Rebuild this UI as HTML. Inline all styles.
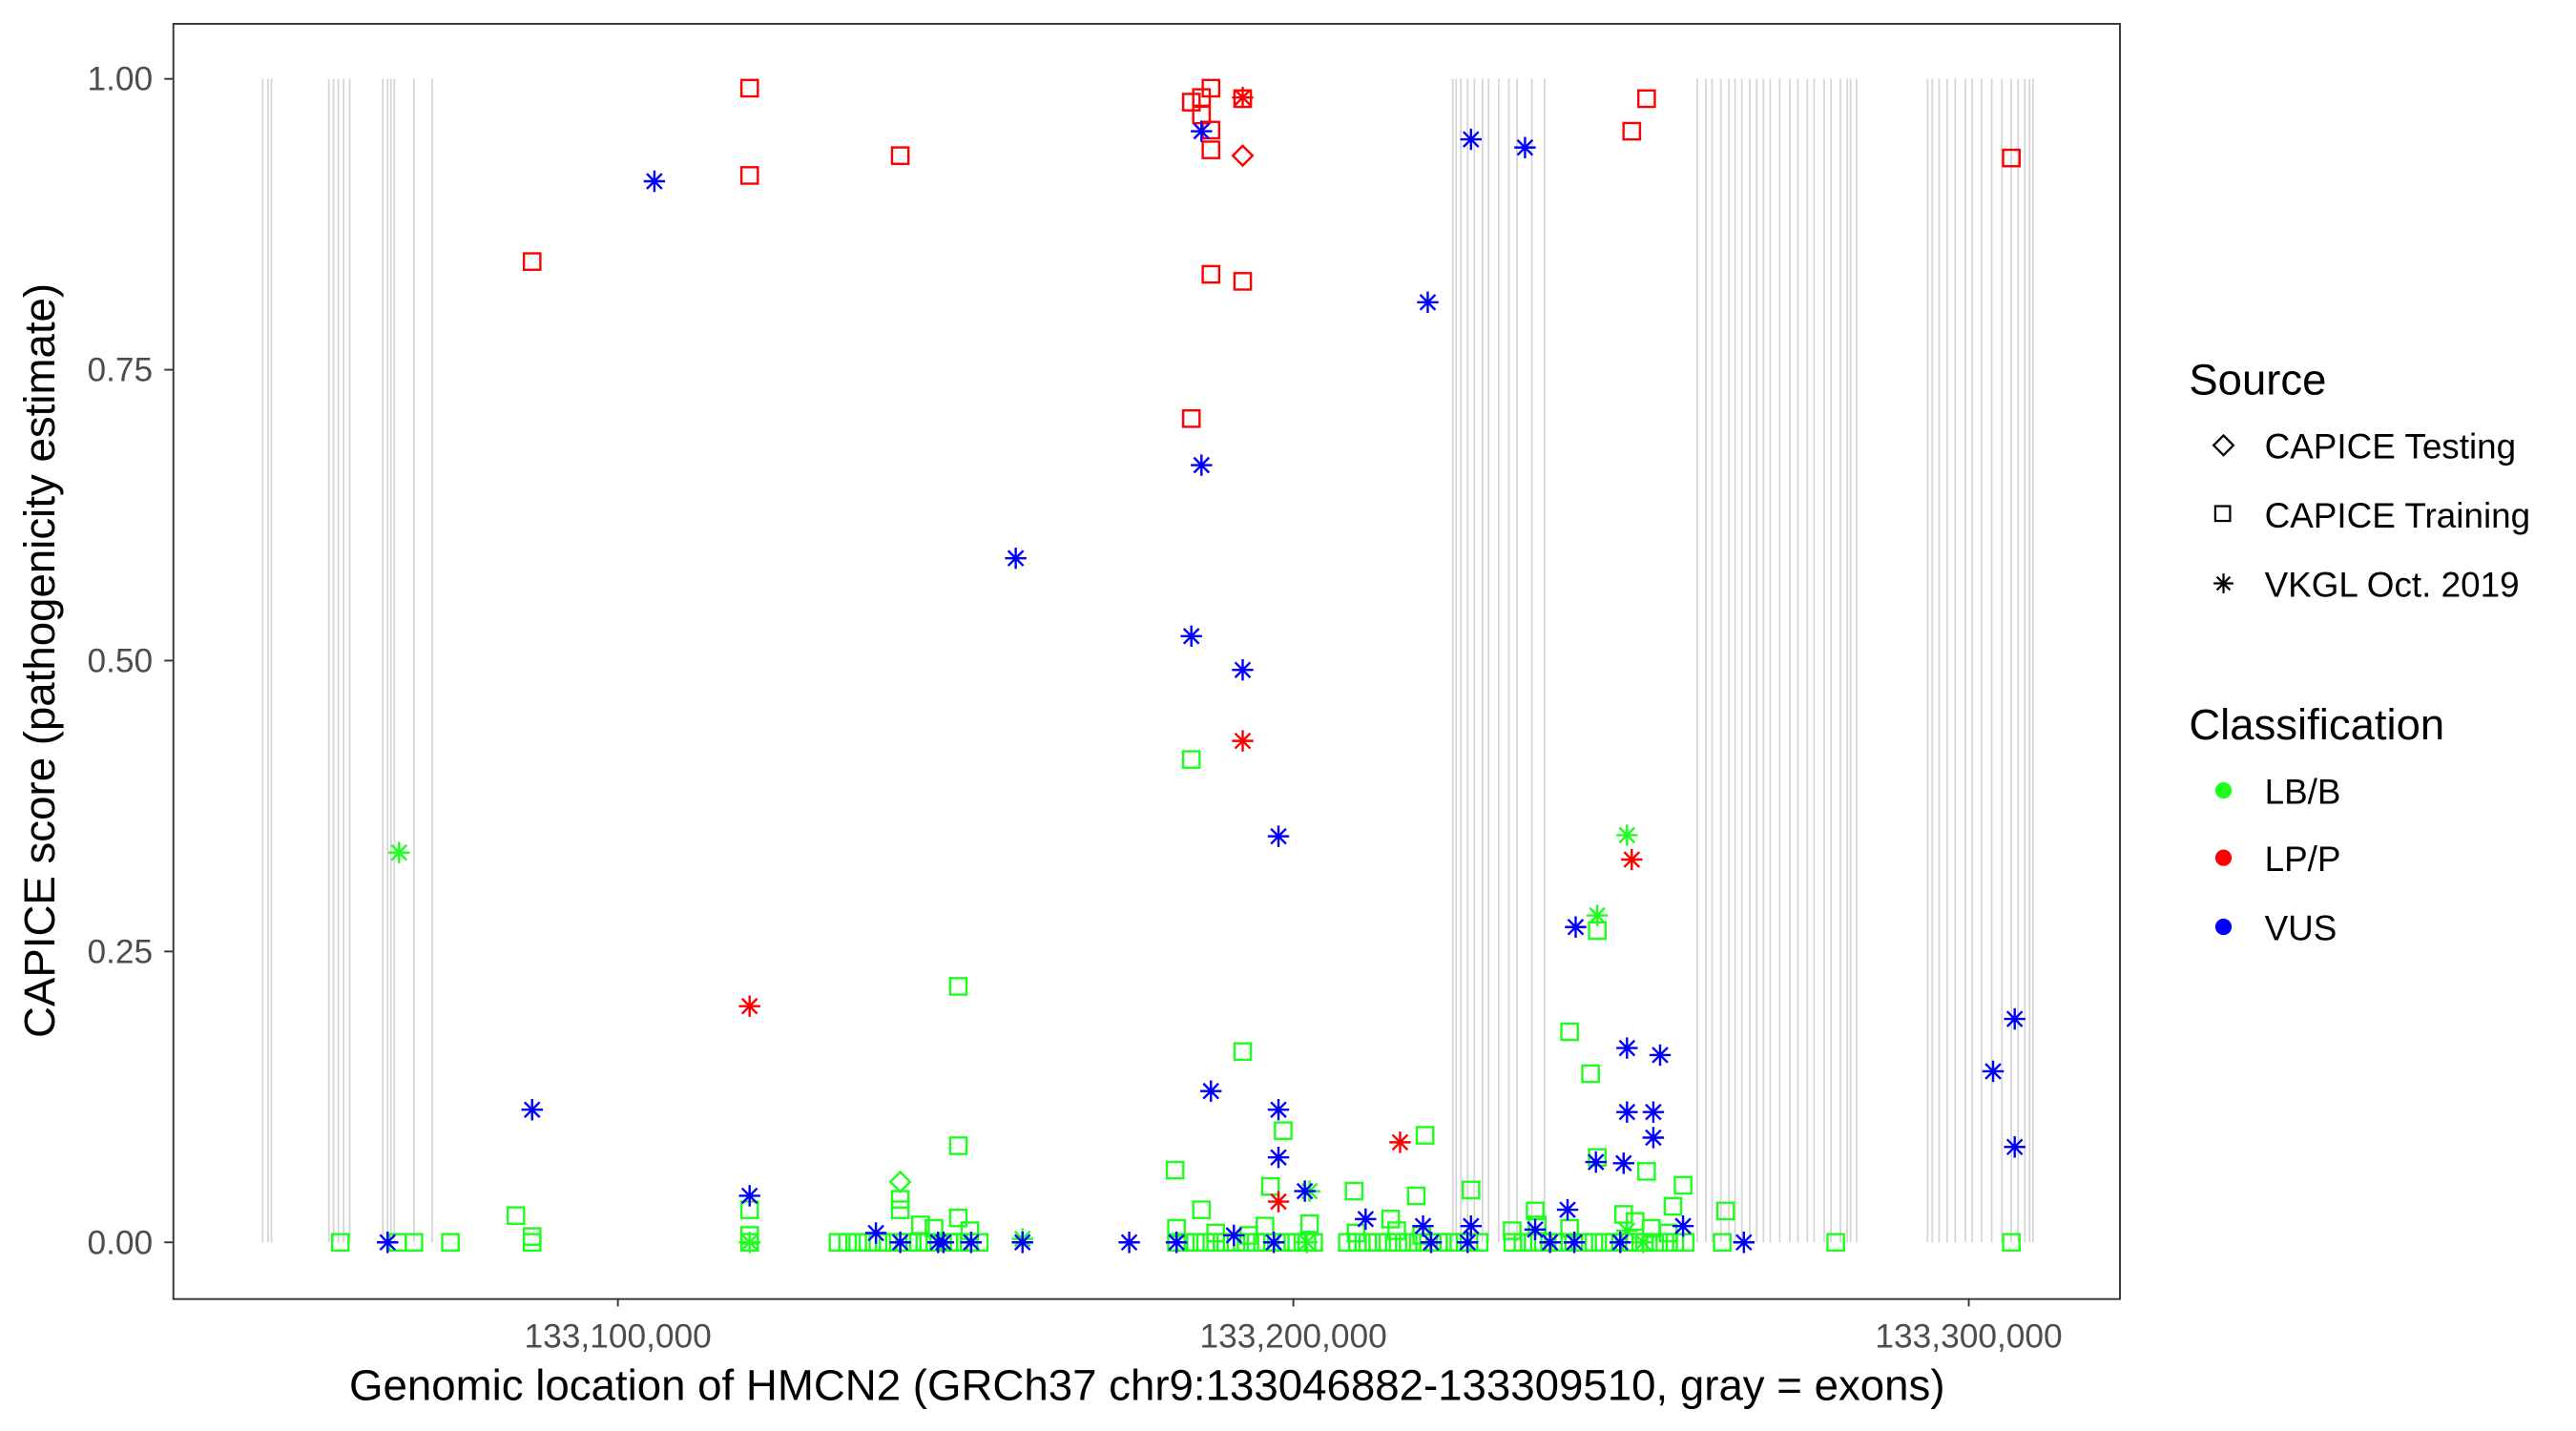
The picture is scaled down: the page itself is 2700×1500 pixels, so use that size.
<!DOCTYPE html>
<html><head><meta charset="utf-8"><style>
html,body{margin:0;padding:0;background:#fff;}
svg{display:block;font-family:"Liberation Sans",Arial,sans-serif;}
</style></head><body>
<svg id="chart" width="2700" height="1500" viewBox="0 0 1567.5 870.8" preserveAspectRatio="none" xmlns="http://www.w3.org/2000/svg">
<rect x="0" y="0" width="1567.5" height="870.8" fill="#fff"/>
<g id="exons"></g>
<g id="points"></g>
<rect x="105.5" y="14.5" width="1184.5" height="776" fill="none" stroke="#333" stroke-width="1.1"/>
<g id="yaxis"></g>
<g id="xaxis"></g>
<text transform="translate(33,402) rotate(-90)" text-anchor="middle" font-size="26.5" fill="#000">CAPICE score (pathogenicity estimate)</text>
<text x="698" y="852" text-anchor="middle" font-size="26.5" fill="#000">Genomic location of HMCN2 (GRCh37 chr9:133046882-133309510, gray = exons)</text>
<g>
<text x="1332" y="240" font-size="26.4">Source</text>
<path d="M1353 265 L1359 271 L1353 277 L1347 271 Z" fill="none" stroke="#000" stroke-width="1.3"/>
<text x="1378" y="279" font-size="21.4">CAPICE Testing</text>
<rect x="1348" y="308" width="9" height="9" fill="none" stroke="#000" stroke-width="1.3"/>
<text x="1378" y="321" font-size="21.4">CAPICE Training</text>
<path d="M1353 349 V361 M1347 355 H1359 M1349 351 L1357 359 M1357 351 L1349 359" stroke="#000" stroke-width="1.3"/>
<text x="1378" y="363" font-size="21.4">VKGL Oct. 2019</text>
</g>
<g>
<text x="1332" y="450" font-size="26.4">Classification</text>
<circle cx="1353" cy="481" r="5" fill="#1cff1c"/>
<text x="1378" y="489" font-size="21.4">LB/B</text>
<circle cx="1353" cy="522" r="5" fill="#ff0000"/>
<text x="1378" y="530" font-size="21.4">LP/P</text>
<circle cx="1353" cy="564" r="5" fill="#0000ff"/>
<text x="1378" y="572" font-size="21.4">VUS</text>
</g>
</svg>
<script>
// positions in kb (GRCh37 chr9), scores 0-1
const exonKb=[133047.4,133048.2,133048.7,133057.2,133057.9,133058.6,133059.4,133060.3,133065.2,133065.9,133066.4,133066.9,133069.8,133072.5,
133223.6,133224.1,133224.8,133225.8,133226.8,133228.0,133228.9,133230.4,133231.9,133233.1,133235.3,133237.2,
133259.8,133261.1,133262.0,133263.3,133264.5,133265.4,133266.4,133267.6,133268.6,133269.6,133270.6,133272.0,133273.5,133274.7,133276.1,133277.1,133278.6,133279.6,133281.0,133282.0,133282.5,133283.4,
133293.9,133294.6,133295.6,133296.8,133298.0,133299.5,133300.5,133301.9,133303.4,133304.9,133306.3,133307.3,133308.3,133309.0,133309.5];
const yTicks=[0,0.25,0.5,0.75,1];
const yTickLabels=["0.00","0.25","0.50","0.75","1.00"];
const xTicksKb=[133100,133200,133300];
const xTickLabels=["133,100,000","133,200,000","133,300,000"];

const greenSquarePos=[133184.9,133150.4,133192.5,133240.9,133244.0,133150.4,133198.5,133219.5,133182.5,133245.0,133245.0,133252.3,133257.7,133196.6,133209.0,133218.2,133226.3,133141.8,133141.8,133084.9,133150.4,133119.5,133186.4,133264.0,133235.8,133256.2,133248.9,133214.4,133202.4,133144.8,133146.8,133152.1,133182.7,133188.5,133195.8,133193.4,133209.3,133215.3,133219.0,133232.4,133236.1,133240.9,133250.6,133253.0,133255.5,133087.3,133119.5,
133058.9,133069.8,133075.2,133087.3,133119.5,133132.6,133134,133135.5,133137,133138.5,133140,133141.5,133143,133144.5,133146,133147.5,133149,133150.5,133152,133153.5,133067.4,
133182.7,133184,133185.5,133187,133188.5,133190,133191.5,133193,133194.5,133196,133197.5,133199,133200.5,133202,133203,
133208,133209.5,133211,133212.5,133214,133215.5,133217,133218.5,133220,133221.5,133223,133224.5,133226,133227.5,
133232.5,133234,133235.5,133237,133238.5,133240,133241.5,133243,133244.5,133246,133247.5,133249,133250.5,133252,133253.5,133255,133256.5,133258,133263.5,133280.3,133306.3];
const greenSquareScore=[0.415,0.220,0.164,0.181,0.145,0.083,0.096,0.092,0.062,0.268,0.073,0.061,0.049,0.048,0.044,0.040,0.045,0.037,0.028,0.023,0.021,0.028,0.028,0.027,0.027,0.031,0.024,0.020,0.016,0.015,0.012,0.010,0.012,0.008,0.014,0.006,0.008,0.010,0.006,0.010,0.015,0.012,0.018,0.012,0.008,0.005,0.006,
0,0,0,0,0,0,0,0,0,0,0,0,0,0,0,0,0,0,0,0,0,
0,0,0,0,0,0,0,0,0,0,0,0,0,0,0,
0,0,0,0,0,0,0,0,0,0,0,0,0,0,
0,0,0,0,0,0,0,0,0,0,0,0,0,0,0,0,0,0,0,0,0];
const greenStarPos=[133067.6,133249.4,133245.0,133202.4,133119.5,133159.9,133249.4,133251.8,133202.0];
const greenStarScore=[0.335,0.350,0.281,0.044,0,0.003,0.010,0,0];
const greenDiamondPos=[133141.8];
const greenDiamondScore=[0.052];

const redSquarePos=[133119.5,133119.5,133087.3,133141.8,133184.9,133186.4,133187.8,133187.8,133187.8,133186.4,133192.5,133187.8,133192.5,133184.9,133250.1,133252.3,133306.3];
const redSquareScore=[0.992,0.917,0.843,0.934,0.980,0.984,0.992,0.956,0.939,0.969,0.983,0.832,0.826,0.708,0.955,0.983,0.932];
const redDiamondPos=[133192.5];
const redDiamondScore=[0.934];
const redStarPos=[133192.5,133192.5,133119.5,133197.8,133215.8,133250.1];
const redStarScore=[0.984,0.431,0.203,0.035,0.086,0.329];

const blueStarPos=[133105.4,133186.4,133226.3,133234.3,133219.9,133186.4,133158.9,133184.9,133192.5,133197.8,133241.8,133306.8,133303.6,133306.8,133087.3,133187.8,133197.8,133197.8,133249.4,133254.3,133249.4,133253.3,133253.3,133244.8,133248.9,133201.7,133119.5,133210.7,133240.6,133257.7,133138.2,133191.2,133219.2,133226.3,133235.8,
133065.9,133141.8,133147.4,133148.2,133152.3,133159.9,133175.7,133182.7,133197.1,133220.4,133225.8,133238.0,133241.6,133248.4,133266.7];
const blueStarScore=[0.912,0.955,0.948,0.941,0.808,0.668,0.588,0.521,0.492,0.349,0.271,0.192,0.147,0.082,0.114,0.130,0.114,0.073,0.167,0.161,0.112,0.112,0.090,0.069,0.068,0.044,0.040,0.020,0.028,0.014,0.008,0.006,0.014,0.014,0.011,
0,0,0,0,0,0,0,0,0,0,0,0,0,0,0];

const NS="http://www.w3.org/2000/svg";
function xScale(kb){return 376+(kb-133100)*4.11;}
function yScale(v){return 756-708*v;}
const gEx=document.getElementById('exons');
exonKb.forEach(function(k){
  const l=document.createElementNS(NS,'line');
  
  
  const x=xScale(k);
  l.setAttribute('x1',x);l.setAttribute('x2',x);
  l.setAttribute('y1',yScale(1));l.setAttribute('y2',yScale(0));
  l.setAttribute('stroke','#d4d4d4');l.setAttribute('stroke-width','1');
  gEx.appendChild(l);
});
const gy=document.getElementById('yaxis');
yTicks.forEach(function(v,i){
  const y=yScale(v);
  const t=document.createElementNS(NS,'line');
  
  
  t.setAttribute('x1',100);t.setAttribute('x2',105);t.setAttribute('y1',y);t.setAttribute('y2',y);
  t.setAttribute('stroke','#333');t.setAttribute('stroke-width','1.1');
  gy.appendChild(t);
  const tx=document.createElementNS(NS,'text');
  
  
  tx.setAttribute('x',93);tx.setAttribute('y',y+7);tx.setAttribute('text-anchor','end');
  tx.setAttribute('font-size','20.5');tx.setAttribute('fill','#4d4d4d');
  tx.textContent=yTickLabels[i];
  gy.appendChild(tx);
});
const gx=document.getElementById('xaxis');
xTicksKb.forEach(function(k,i){
  const x=xScale(k);
  const t=document.createElementNS(NS,'line');
  
  
  t.setAttribute('x1',x);t.setAttribute('x2',x);t.setAttribute('y1',790);t.setAttribute('y2',795);
  t.setAttribute('stroke','#333');t.setAttribute('stroke-width','1.1');
  gx.appendChild(t);
  const tx=document.createElementNS(NS,'text');
  
  
  tx.setAttribute('x',x);tx.setAttribute('y',820);tx.setAttribute('text-anchor','middle');
  tx.setAttribute('font-size','20.5');tx.setAttribute('fill','#4d4d4d');
  tx.textContent=xTickLabels[i];
  gx.appendChild(tx);
});
const gp=document.getElementById('points');
function mark(shape,pos,score,color,cls){
  pos.forEach(function(k,i){
    const x=xScale(k),y=yScale(score[i]);
    let el;
    if(shape==='square'){
      el=document.createElementNS(NS,'rect');
      el.setAttribute('x',x-5);el.setAttribute('y',y-5);el.setAttribute('width',10);el.setAttribute('height',10);
      el.setAttribute('fill','none');
    }else if(shape==='diamond'){
      el=document.createElementNS(NS,'path');
      el.setAttribute('d','M'+x+' '+(y-6)+' L'+(x+6)+' '+y+' L'+x+' '+(y+6)+' L'+(x-6)+' '+y+' Z');
      el.setAttribute('fill','none');
    }else{
      el=document.createElementNS(NS,'path');
      el.setAttribute('d','M'+x+' '+(y-6.5)+' V'+(y+6.5)+' M'+(x-6.5)+' '+y+' H'+(x+6.5)+' M'+(x-4.6)+' '+(y-4.6)+' L'+(x+4.6)+' '+(y+4.6)+' M'+(x+4.6)+' '+(y-4.6)+' L'+(x-4.6)+' '+(y+4.6));
    }
    
    
    el.setAttribute('stroke',color);el.setAttribute('stroke-width','1.4');
    gp.appendChild(el);
  });
}
const GREEN='#1cff1c',RED='#ff0000',BLUE='#0000ff';
mark('square',greenSquarePos,greenSquareScore,GREEN,'lbb');
mark('star',greenStarPos,greenStarScore,GREEN,'lbb');
mark('diamond',greenDiamondPos,greenDiamondScore,GREEN,'lbb');
mark('square',redSquarePos,redSquareScore,RED,'lpp');
mark('diamond',redDiamondPos,redDiamondScore,RED,'lpp');
mark('star',redStarPos,redStarScore,RED,'lpp');
mark('star',blueStarPos,blueStarScore,BLUE,'vus');
</script>
</body></html>
